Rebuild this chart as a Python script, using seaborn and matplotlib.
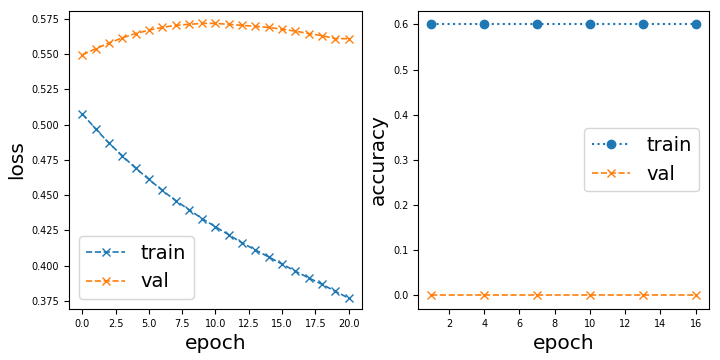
import numpy as np
import pandas as pd
import seaborn as sns
import matplotlib
matplotlib.use("Agg")
import matplotlib.pyplot as plt

epochs_loss = list(range(21))
train_loss = [0.5076, 0.4969, 0.4869, 0.4779, 0.4691, 0.4612, 0.4534, 0.4462, 0.4398,
              0.4334, 0.4276, 0.4219, 0.4162, 0.4112, 0.4062, 0.4012, 0.3962, 0.3914,
              0.3869, 0.3819, 0.3771]
val_loss = [0.5493, 0.5536, 0.5577, 0.5613, 0.5644, 0.5668, 0.5687, 0.5702, 0.5709,
            0.5716, 0.5716, 0.5709, 0.5702, 0.5695, 0.5687, 0.5675, 0.5661, 0.5644,
            0.5629, 0.5608, 0.5608]

epochs_acc = [1, 4, 7, 10, 13, 16]
train_acc = [0.6, 0.6, 0.6, 0.6, 0.6, 0.6]
val_acc = [0.0, 0.0, 0.0, 0.0, 0.0, 0.0]

plt.rcParams['font.family'] = ['DejaVu Sans']
fig = plt.figure(figsize=(7.2, 3.6), dpi=100)
ax1 = fig.add_axes([0.0958, 0.142, 0.407, 0.828])
ax2 = fig.add_axes([0.5806, 0.142, 0.404, 0.828])

blue, orange = "#1f77b4", "#ff7f0e"

sns.lineplot(x=epochs_loss, y=train_loss, ax=ax1, color=blue, linestyle="--",
             marker="x", markersize=6, markeredgewidth=1.0, markeredgecolor=blue,
             linewidth=1.2, label="train")
sns.lineplot(x=epochs_loss, y=val_loss, ax=ax1, color=orange, linestyle="--",
             marker="x", markersize=6, markeredgewidth=1.0, markeredgecolor=orange,
             linewidth=1.2, label="val")
sns.lineplot(x=epochs_acc, y=train_acc, ax=ax2, color=blue, linestyle=":",
             marker="o", markersize=6, markeredgewidth=1, markeredgecolor=blue,
             linewidth=1.5, label="train")
sns.lineplot(x=epochs_acc, y=val_acc, ax=ax2, color=orange, linestyle="--",
             marker="x", markersize=6, markeredgewidth=1.0, markeredgecolor=orange,
             linewidth=1.2, label="val")

ax1.set_xticks([0, 2.5, 5, 7.5, 10, 12.5, 15, 17.5, 20])
ax1.set_yticks([0.375, 0.4, 0.425, 0.45, 0.475, 0.5, 0.525, 0.55, 0.575])
ax1.set_ylim(0.3695, 0.5805)
ax1.set_xlim(-1.0, 21.0)
ax2.set_xticks([2, 4, 6, 8, 10, 12, 14, 16])
ax2.set_xlim(0.25, 16.75)
ax2.set_ylim(-0.03, 0.63)
ax2.set_yticks([0.0, 0.1, 0.2, 0.3, 0.4, 0.5, 0.6])

for ax, yl in ((ax1, "loss"), (ax2, "accuracy")):
    ax.set_xlabel("epoch", fontsize=14.5)
    ax.set_ylabel(yl, fontsize=14.5)
    ax.tick_params(labelsize=7)
    ax.set_facecolor("white")
    for s in ax.spines.values():
        s.set_visible(True)
        s.set_color("black")

ax1.legend(loc="lower left", fontsize=14)
ax2.legend(loc="center right", fontsize=14)

fig.savefig("out.png", dpi=100)
